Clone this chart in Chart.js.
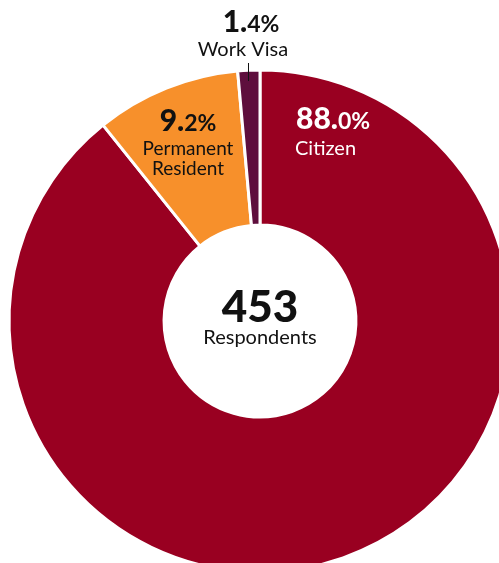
<!DOCTYPE html>
<html>
<head>
<meta charset="utf-8">
<script src="https://cdn.jsdelivr.net/npm/chart.js@4.4.0/dist/chart.umd.min.js"></script>
<style>
  html, body { margin: 0; padding: 0; background: #fff; overflow: hidden; }
  #wrap { position: absolute; left: 0; top: 0; width: 520px; height: 640px; }
</style>
</head>
<body>
<div id="wrap"><canvas id="donut" width="520" height="640"></canvas></div>
<script>
// data
var categories = ["Citizen", "Permanent Resident", "Work Visa"];
var shares = [88.0, 9.2, 1.4];
var colors = ["#990021", "#F7902B", "#5E0E3D"];
var respondents = 453;

var FONT = "Lato, 'Open Sans', sans-serif";

// big integer part, smaller decimal + %
function drawPct(ctx, value, x, y, align, color) {
    var parts = value.toFixed(1).split(".");
    var big = parts[0] + ".";
    var small = parts[1] + "%";
    ctx.fillStyle = color;
    ctx.textBaseline = "alphabetic";
    ctx.textAlign = "left";
    ctx.font = "900 30px " + FONT;
    var wb = ctx.measureText(big).width;
    ctx.font = "bold 23px " + FONT;
    var ws = ctx.measureText(small).width;
    var x0 = align === "center" ? x - (wb + ws) / 2 : x;
    ctx.font = "900 30px " + FONT;
    ctx.fillText(big, x0, y);
    ctx.font = "bold 23px " + FONT;
    ctx.fillText(small, x0 + wb, y);
}

function drawText(ctx, txt, x, y, align, color, size) {
    ctx.fillStyle = color;
    ctx.textAlign = align;
    ctx.textBaseline = "alphabetic";
    ctx.font = "normal " + size + "px " + FONT;
    ctx.fillText(txt, x, y);
}

var labelPlugin = {
    id: "labels",
    afterDraw: function (chart) {
        var ctx = chart.ctx;
        var arc = chart.getDatasetMeta(0).data[0];
        var cx = arc.x, cy = arc.y;
        ctx.save();

        // centre
        ctx.fillStyle = "#111";
        ctx.textAlign = "center";
        ctx.font = "900 44px " + FONT;
        ctx.fillText(String(respondents), cx, cy + 1);
        drawText(ctx, "Respondents", cx, cy + 23, "center", "#111", 20);

        // Citizen
        drawPct(ctx, shares[0], cx + 36, cy - 192, "left", "#fff");
        drawText(ctx, "Citizen", cx + 35, cy - 166, "left", "#fff", 20);

        // Permanent Resident
        drawPct(ctx, shares[1], cx - 72, cy - 190, "center", "#111");
        drawText(ctx, "Permanent", cx - 72, cy - 166, "center", "#111", 19);
        drawText(ctx, "Resident", cx - 72, cy - 146, "center", "#111", 19);

        // Work Visa with leader line
        drawPct(ctx, shares[2], cx - 9, cy - 289, "center", "#111");
        drawText(ctx, "Work Visa", cx - 17, cy - 265, "center", "#111", 20);
        ctx.strokeStyle = "#111";
        ctx.lineWidth = 1;
        ctx.beginPath();
        ctx.moveTo(cx - 11.5, cy - 258);
        ctx.lineTo(cx - 11.5, cy - 240);
        ctx.stroke();

        ctx.restore();
    }
};

new Chart(document.getElementById("donut"), {
    type: "doughnut",
    data: {
        labels: categories,
        datasets: [{
            data: shares,
            backgroundColor: colors,
            borderColor: "#fff",
            borderWidth: 3,
            radius: 251,
            cutout: 95
        }]
    },
    options: {
        responsive: false,
        animation: false,
        layout: { padding: { left: 10, right: 10, top: 71, bottom: 69 } },
        plugins: {
            legend: { display: false },
            tooltip: { enabled: false }
        }
    },
    plugins: [labelPlugin]
});
</script>
</body>
</html>
